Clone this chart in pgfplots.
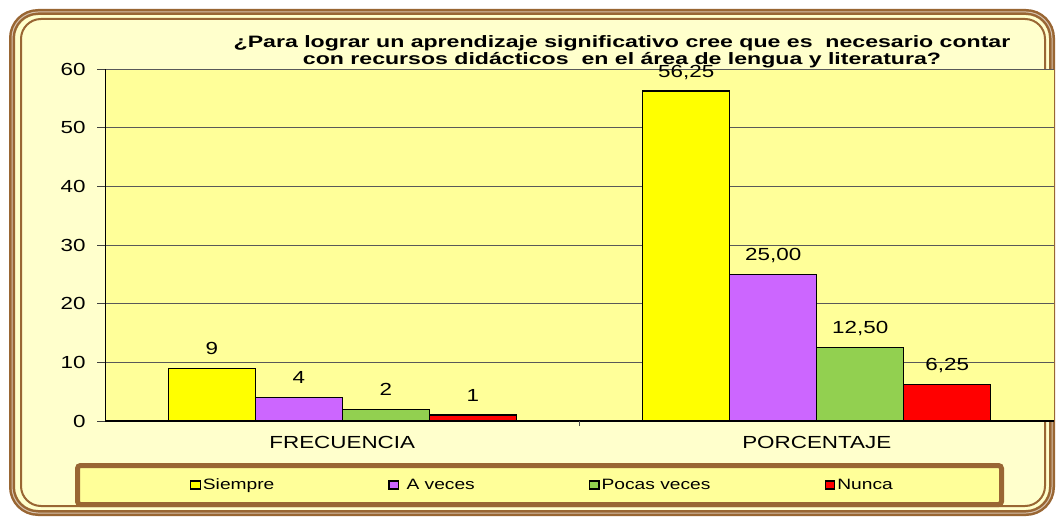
\documentclass[border=0pt]{standalone}
\usepackage{pgfplots}
\pgfplotsset{compat=1.18}
\usepackage{pgfplotstable}
\usepackage{fontspec}
\setmainfont[FakeStretch=1.28]{Liberation Sans}
\newfontfamily\titlefont[FakeStretch=1.4]{Liberation Sans}
\definecolor{framebrown}{HTML}{996633}
\definecolor{cream}{HTML}{FFFFCC}
\definecolor{plotyellow}{HTML}{FFFF99}
\definecolor{cSiempre}{HTML}{FFFF00}
\definecolor{cAveces}{HTML}{CC66FF}
\definecolor{cPocas}{HTML}{92D050}
\definecolor{cNunca}{HTML}{FF0000}

\pgfplotstableread{
x y lab
0 9 9
1 56.25 56,25
}\tSiempre
\pgfplotstableread{
x y lab
0 4 4
1 25 25,00
}\tAveces
\pgfplotstableread{
x y lab
0 2 2
1 12.5 12,50
}\tPocas
\pgfplotstableread{
x y lab
0 1 1
1 6.25 6,25
}\tNunca

\begin{document}
\begin{tikzpicture}[x=1pt,y=1pt]
\useasboundingbox (0,0) rectangle (1056,517);
\fill[white] (0,0) rectangle (1056,517);
\fill[cream, rounded corners=26pt] (12,4) rectangle (1052,505);
\draw[framebrown, line width=6pt, rounded corners=26pt] (12,4) rectangle (1052,505);
\draw[white!60!framebrown, line width=1pt, rounded corners=26pt] (12,4) rectangle (1052,505);
\draw[framebrown, line width=2pt, rounded corners=20pt] (21,11) rectangle (1045,498);
\draw[framebrown, line width=5pt, fill=plotyellow, rounded corners=3pt] (77.5,12.5) rectangle (1001.5,51.5);
\node[align=center, font=\titlefont\bfseries\fontsize{16.5}{17}\selectfont] at (622,465)
  {¿Para lograr un aprendizaje significativo cree que es\ \ necesario contar\\con recursos didácticos\ \ en el área de lengua y literatura?};
\begin{axis}[
  at={(105pt,96pt)}, anchor=south west, scale only axis,
  width=949pt, height=352pt,
  xmin=-0.5, xmax=1.5, ymin=0, ymax=60,
  ybar=0pt, bar width=87pt,
  axis background/.style={fill=plotyellow},
  axis x line=bottom, axis y line=left,
  axis line style={-},
  x axis line style={black, line width=1.5pt},
  y axis line style={black, line width=1pt},
  ytick={0,10,...,60},
  tick align=outside, major tick length=8pt,
  ytick style={black!75, line width=1pt},
  ymajorgrids, grid style={draw=black!65, line width=0.9pt},
  xtick={0,1}, xticklabels={FRECUENCIA,PORCENTAJE},
  xtick style={draw=none},
  extra x ticks={0.5}, extra x tick labels={},
  extra x tick style={xtick style={draw=black!70, line width=1.5pt}, major tick length=5pt},
  /pgf/number format/assume math mode=true,
  xticklabel style={font=\fontsize{17.5}{20}\selectfont, yshift=-4pt},
  yticklabel style={font=\fontsize{17.5}{20}\selectfont, xshift=-8pt},
  point meta=explicit symbolic,
  nodes near coords,
  every node near coord/.append style={font=\fontsize{17.5}{20}\selectfont, anchor=base, yshift=14pt},
  legend columns=4,
  legend style={at={(axis description cs:0.0895,-0.1818)}, anchor=west, draw=none, fill=none,
    inner sep=0pt, font=\fontsize{15}{18}\selectfont,
    /tikz/every even column/.append style={column sep=112pt}},
  legend cell align=left,
  legend image code/.code={\draw[#1,draw=black,line width=1.3pt] (0pt,-4pt) rectangle (9.5pt,4pt);},
]
\addplot[fill=cSiempre, draw=black, line width=1.3pt] table[x=x,y=y,meta=lab]{\tSiempre};
\addlegendentry{Siempre}
\addplot[fill=cAveces, draw=black, line width=1.3pt] table[x=x,y=y,meta=lab]{\tAveces};
\addlegendentry{\ A veces}
\addplot[fill=cPocas, draw=black, line width=1.3pt] table[x=x,y=y,meta=lab]{\tPocas};
\addlegendentry{Pocas veces}
\addplot[fill=cNunca, draw=black, line width=1.3pt] table[x=x,y=y,meta=lab]{\tNunca};
\addlegendentry{Nunca}
\end{axis}
\end{tikzpicture}
\end{document}
